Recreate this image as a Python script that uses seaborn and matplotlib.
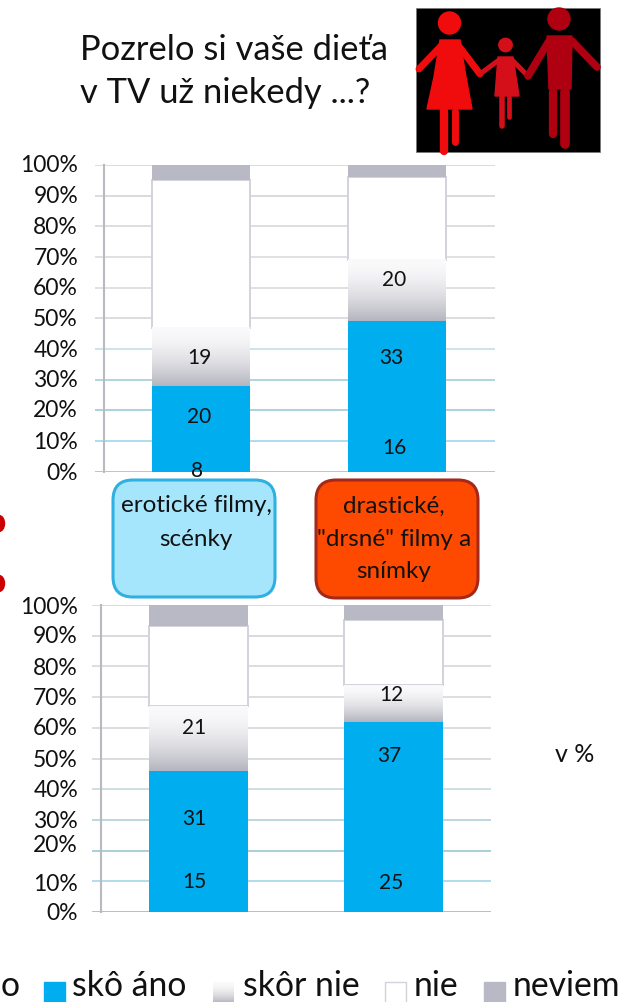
import numpy as np
import pandas as pd
import matplotlib
matplotlib.use("Agg")
import matplotlib.pyplot as plt
from matplotlib.patches import Circle, Ellipse, FancyBboxPatch, Polygon, Rectangle
from matplotlib.transforms import ScaledTranslation
import seaborn as sns

# Survey shares in percent, stacked from the bottom of each bar
items = ["erotické filmy, scénky", "drastické, \"drsné\" filmy a snímky"]
top_urcite = [8, 16]
top_skoro = [20, 33]
top_skor_nie = [19, 20]
top_nie = [48, 27]
top_neviem = [5, 4]
low_urcite = [15, 25]
low_skoro = [31, 37]
low_skor_nie = [21, 12]
low_nie = [26, 21]
low_neviem = [7, 5]
tick_labels = ["0%", "10%", "20%", "30%", "40%", "50%", "60%", "70%", "80%", "90%", "100%"]
legend_labels = ["o", "skô áno", "skôr nie", "nie", "neviem"]
title_lines = ["Pozrelo si vaše dieťa", "v TV už niekedy ...?"]
box_labels = ["erotické filmy,\nscénky", "drastické,\n\"drsné\" filmy a\nsnímky"]
unit_label = "v %"

BLUE = "#00aeef"
EDGE = "#d2d2da"
NEVIEM = "#b8b9c5"
GRAD_TOP = np.array([0.98, 0.98, 0.985])
GRAD_BOTTOM = np.array([0.71, 0.71, 0.75])
FONT = "Lato"

sns.set_style("white")
plt.rcParams["font.family"] = [FONT, "DejaVu Sans"]

W, H = 627, 1003
fig = plt.figure(figsize=(W / 100, H / 100), dpi=100, facecolor="white")

# Full-figure layer in pixel coordinates for the non-chart furniture
page = fig.add_axes([0, 0, 1, 1], zorder=0)
page.set_xlim(0, W)
page.set_ylim(H, 0)
page.axis("off")


def shade_ramp(steps):
    # Stays pale for the upper part, then darkens towards the base
    t = np.linspace(0, 1, steps)[:, None, None] ** 1.7
    return t * (GRAD_BOTTOM - GRAD_TOP) + GRAD_TOP


def stacked_chart(box, xlim, width, spine_x, segments, grid_colors, nudges, label_x, tick_shift):
    left, right, y0, y100 = box
    ax = fig.add_axes([left / W, 1 - y0 / H, (right - left) / W, (y0 - y100) / H], zorder=2)
    ax.patch.set_alpha(0)
    frame = pd.DataFrame({"item": items})
    bottom = np.zeros(len(items))
    colors = [BLUE, BLUE, "white", "white", NEVIEM]
    for idx, (values, color) in enumerate(zip(segments, colors)):
        frame["value"] = values
        before = len(ax.patches)
        outlined = idx == 3
        sns.barplot(data=frame, x="item", y="value", order=items, color=color, saturation=1,
                    width=width, bottom=bottom, ax=ax, zorder=3.2 if outlined else 3.3,
                    edgecolor=EDGE if outlined else color, linewidth=1.4 if outlined else 0)
        if idx == 2:
            for bar in ax.patches[before:]:
                x0, x1 = bar.get_x(), bar.get_x() + bar.get_width()
                y_low, y_high = bar.get_y(), bar.get_y() + bar.get_height()
                ax.imshow(shade_ramp(64), extent=(x0, x1, y_low, y_high), aspect="auto", origin="upper",
                          zorder=3.35, interpolation="bilinear")
        centers = bottom + np.asarray(values) / 2
        for pos, (val, mid) in enumerate(zip(values, centers)):
            if idx < 3:
                ax.annotate(str(val), (pos, mid), xycoords="data",
                            xytext=(label_x[idx][pos], nudges[idx][pos]), textcoords="offset pixels",
                            ha="center", va="center", fontsize=15, color="#111111", zorder=5)
        bottom = bottom + np.asarray(values)
    ax.set_xlim(*xlim)
    ax.set_ylim(0, 100)
    ax.set_xlabel("")
    ax.set_ylabel("")
    ax.set_xticks([])
    for name in ("top", "right", "bottom"):
        ax.spines[name].set_visible(False)
    # Moving a spine rebuilds the ticks, so the axis line is placed before they are styled
    ax.spines["left"].set_position(("data", spine_x))
    ax.spines["left"].set_color("#b9b9bf")
    ax.spines["left"].set_linewidth(1.5)
    ax.set_yticks(np.arange(0, 101, 10))
    ax.set_yticklabels(tick_labels, fontsize=16.5, color="#111111")
    ax.tick_params(axis="y", length=0, pad=0)
    ax.grid(axis="y", linewidth=1.1, zorder=0)
    ax.set_axisbelow(True)
    for line, col in zip(ax.get_ygridlines(), grid_colors):
        line.set_color(col)
    spine_px = left + (spine_x - xlim[0]) / (xlim[1] - xlim[0]) * (right - left)
    for label, shift in zip(ax.get_yticklabels(), tick_shift):
        label.set_transform(label.get_transform()
                            + ScaledTranslation((78 - spine_px) / 100, shift / 100, fig.dpi_scale_trans))
    return ax


upper_grid = ["#b3b3b5", "#93d5ec", "#93c6d4", "#98cbd8", "#bfdde6", "#d2d3d8",
              "#d6d7dc", "#d8d9de", "#d4d5da", "#cfd0d6", "#cfd0d6"]
lower_grid = ["#84b8ca", "#9cd3e4", "#93c2ce", "#aacdd8", "#c2d6dc", "#d2d3d8",
              "#d2d3d8", "#d4d5da", "#d2d3d8", "#cfd0d6", "#cfd0d6"]

stacked_chart(
    (95, 495, 472.7, 166), (-0.541, 1.5), 0.5, -0.495,
    [top_urcite, top_skoro, top_skor_nie, top_nie, top_neviem], upper_grid,
    [[-11, 0], [0, 15], [0, 12]], [[-4, -3], [-2, -6], [-2, -3]],
    [1, 2, 3, 2, 2, 2, 2, 2, 2, 2, 3],
)
stacked_chart(
    (92, 491, 913, 606), (-0.546, 1.5), 0.507, -0.5,
    [low_urcite, low_skoro, low_skor_nie, low_nie, low_neviem], lower_grid,
    [[8, -8], [0, 23], [12, 9]], [[-4, -2], [-4, -4], [-4, -2]],
    [1, 0, 8, 1, 2, 1, 2, 2, 1, 2, 0],
)

# Heading
for text, y in zip(title_lines, (50, 93)):
    page.text(80, y, text, fontsize=24.8, color="#111111", ha="left", va="center")

# Family pictogram: a woman, a child and a man holding hands on black
page.add_patch(Rectangle((416, 9), 184, 144, facecolor="black", edgecolor="#777777", linewidth=0.5))
WOMAN, CHILD, MAN = "#f00c0c", "#d40f1a", "#ae0010"
page.add_patch(Circle((449.5, 24), 11, color=WOMAN))
page.add_patch(Polygon([(440, 41), (460, 41), (466, 78), (472, 110), (427, 110), (434, 78)], color=WOMAN))
page.plot([442, 419], [46, 70], color=WOMAN, lw=5, solid_capstyle="round")
page.plot([458, 480], [46, 75], color=WOMAN, lw=5, solid_capstyle="round")
page.plot([444, 444], [112, 152], color=WOMAN, lw=6, solid_capstyle="round")
page.plot([455, 455], [112, 143], color=WOMAN, lw=5, solid_capstyle="round")
page.add_patch(Circle((505.5, 46), 6.7, color=CHILD))
page.add_patch(Polygon([(498, 58), (513, 58), (519, 97), (495, 97)], color=CHILD))
page.plot([499, 480], [61, 75], color=CHILD, lw=3.6, solid_capstyle="round")
page.plot([512, 528], [61, 77], color=CHILD, lw=3.6, solid_capstyle="round")
page.plot([502, 502], [98, 127], color=CHILD, lw=4, solid_capstyle="round")
page.plot([509, 509], [98, 118], color=CHILD, lw=3.4, solid_capstyle="round")
page.add_patch(Circle((559, 20), 11, color=MAN))
page.add_patch(Polygon([(547, 37), (572, 37), (571, 90), (549, 90)], color=MAN))
page.plot([549, 528], [42, 77], color=MAN, lw=5.5, solid_capstyle="round")
page.plot([572, 597], [42, 68], color=MAN, lw=5.5, solid_capstyle="round")
page.plot([553, 553], [93, 135], color=MAN, lw=6, solid_capstyle="round")
page.plot([565, 565], [93, 145], color=MAN, lw=7, solid_capstyle="round")

# Category boxes between the two charts
box_specs = [
    (113, 481, 162, 117, "#a6e6fd", "#2fb0e0", 196, 0),
    (316, 481, 162, 118, "#fe4a00", "#a5281c", 394, 1),
]
for x, y, w, h, face, edge, cx, i in box_specs:
    page.add_patch(FancyBboxPatch((x + 20, y + 20), w - 40, h - 40, boxstyle="round,pad=20,rounding_size=20",
                                  facecolor=face, edgecolor=edge, linewidth=2.2))
    lines = box_labels[i].split("\n")
    for line, ly in zip(lines, (506, 539, 571)):
        page.text(cx, ly, line, fontsize=17.5, color="#111111", ha="center", va="center")

# Fragments cut by the left edge of the figure
page.add_patch(Ellipse((-1, 524.5), 11, 16, color="#cc0000"))
page.add_patch(Ellipse((-1, 584.5), 11, 16, color="#cc0000"))

page.text(575, 755, unit_label, fontsize=18, color="#111111", ha="center", va="center")

# Legend row along the bottom edge
swatches = [(44, BLUE, None), (213, None, None), (385, "white", EDGE), (484, NEVIEM, None)]
for x, color, edge in swatches:
    if color is None:
        page.imshow(shade_ramp(32), extent=(x, x + 21, 1004, 983), aspect="auto", interpolation="bilinear")
    else:
        page.add_patch(Rectangle((x, 983), 21, 22, facecolor=color, edgecolor=edge or color, linewidth=1))
page.set_xlim(0, W)
page.set_ylim(H, 0)
for text, x in zip(legend_labels, (1, 72, 243, 414, 513)):
    page.text(x, 986, text, fontsize=24.3, color="#111111", ha="left", va="center")

fig.savefig("out.png", dpi=100, facecolor="white")
